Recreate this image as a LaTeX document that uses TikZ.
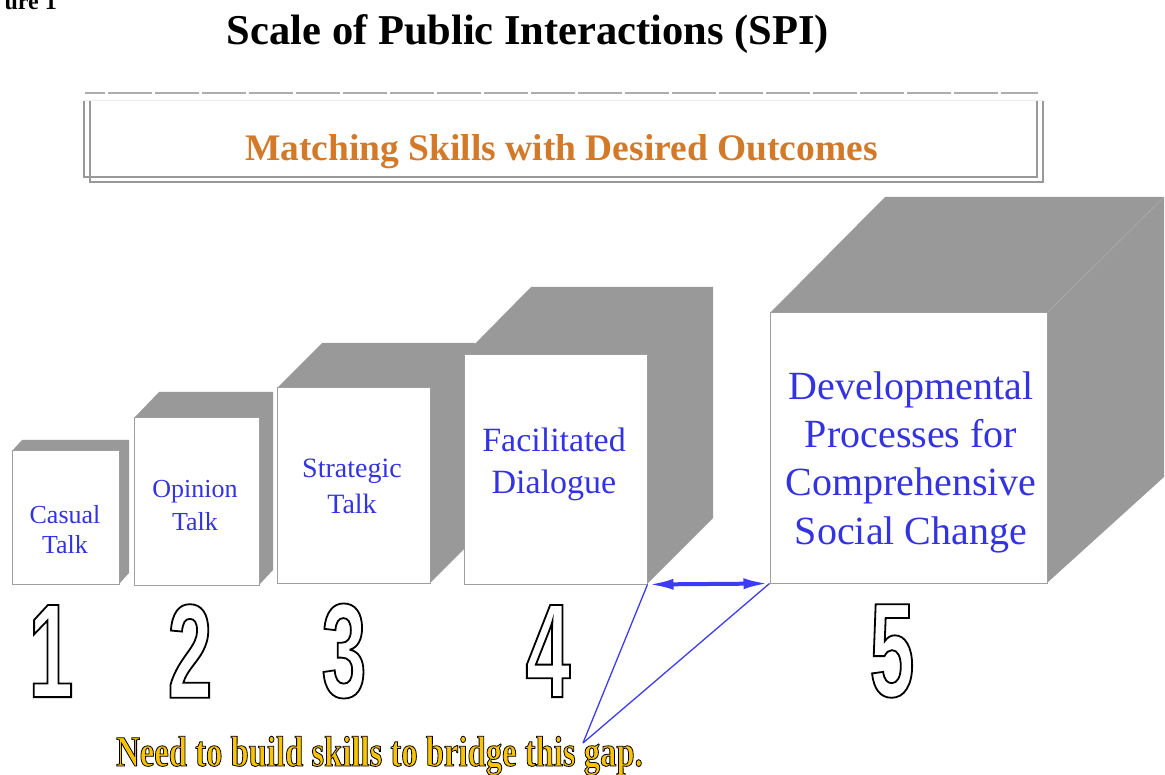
\documentclass[tikz,border=0pt]{standalone}
\usepackage{fontspec}
\setmainfont{Liberation Serif}
\newfontfamily\numfont[FakeStretch=0.6]{Liberation Sans}
\newfontfamily\gapfont[FakeStretch=0.76]{Liberation Serif}
\usetikzlibrary{arrows.meta}
\definecolor{boxgray}{RGB}{153,153,153}
\definecolor{labelblue}{RGB}{51,51,225}
\definecolor{bannerorange}{RGB}{210,122,42}
\definecolor{arrowblue}{RGB}{60,60,245}
\definecolor{gapgold}{RGB}{250,196,0}
\newcommand{\hollow}[1]{\special{pdf:literal direct 1 Tr 1.8 w 0 G}#1\special{pdf:literal direct 0 Tr}}
\newcommand{\goldtext}[1]{{\color{gapgold}\special{pdf:literal direct 2 Tr 0.8 w 0 G}#1\special{pdf:literal direct 0 Tr}}}
\begin{document}
\begin{tikzpicture}[x=1pt,y=-1pt,
  face/.style={draw=gray!75,line width=1pt,fill=white,inner sep=0pt},
  side/.style={fill=boxgray},
  facetext/.style={text=labelblue,align=center,inner sep=0pt},
  numeral/.style={inner sep=0pt,font=\numfont\bfseries\fontsize{134}{134}\selectfont},
  frameline/.style={draw=boxgray,line width=1.3pt},
  gaparrow/.style={draw=arrowblue,line width=4pt,{Latex[length=26pt,width=11pt]}-{Latex[length=26pt,width=11pt]}},
  gapline/.style={draw=arrowblue,line width=1.3pt}]
\clip (0,0) rectangle (1165,775);

% headings
\node[font=\bfseries\fontsize{24}{28}\selectfont,anchor=base east,inner sep=0pt] (figlabel) at (57,10) {ure 1};
\node[font=\bfseries\fontsize{42.5}{50}\selectfont,anchor=base] (title) at (528,45) {Scale of Public Interactions (SPI)};

% banner
\draw[boxgray!80!white,line width=1.5pt,dash pattern=on 44pt off 3pt,dash phase=24pt] (85,93) -- (1038,93);
\draw[gray!15,line width=1pt] (84,101) -- (1043,101);
\draw[frameline] (84,101) -- (84,177) -- (1037,177) -- (1037,101);
\draw[frameline] (90,101) -- (90,182) -- (1043,182) -- (1043,101);
\node[text=bannerorange,font=\bfseries\fontsize{37.5}{45}\selectfont,anchor=base] (banner) at (561.5,161) {Matching Skills with Desired Outcomes};

% blocks
\fill[side] (12,451) -- (22,440) -- (129,440) -- (129,573) -- (119,584) -- (119,451) -- cycle;
\node[face,minimum width=107pt,minimum height=133pt] (casual) at (65.5,517.5) {};
\fill[side] (134,418) -- (159,392) -- (273,392) -- (273,570) -- (259,585) -- (259,418) -- cycle;
\node[face,minimum width=125pt,minimum height=167pt] (opinion) at (196.5,501.5) {};
\fill[side] (277,388) -- (322,343) -- (475,343) -- (475,538) -- (430,583) -- (430,388) -- cycle;
\node[face,minimum width=153pt,minimum height=195pt] (strategic) at (353.5,485.5) {};
\fill[side] (464,355) -- (531,287) -- (713,287) -- (713,518) -- (647,584) -- (647,355) -- cycle;
\node[face,minimum width=183pt,minimum height=229pt] (facilitated) at (555.5,469.5) {};
\fill[side] (770,313) -- (885,197) -- (1164,197) -- (1164,477) -- (1047,583) -- (1047,313) -- cycle;
\draw[boxgray!80!white,line width=0.6pt] (1047,313) -- (1164,197);
\node[face,minimum width=277pt,minimum height=270pt] (developmental) at (908.5,448) {};

\node[facetext,font=\fontsize{26}{30}\selectfont] (casualtext) at (65,530) {Casual\\Talk};
\node[facetext,font=\fontsize{26}{33}\selectfont] (opiniontext) at (195,506) {Opinion\\Talk};
\node[facetext,font=\fontsize{28}{36}\selectfont] (strategictext) at (352,486) {Strategic\\Talk};
\node[facetext,font=\fontsize{34}{42}\selectfont] (facilitatedtext) at (554,464) {Facilitated\\Dialogue};
\node[facetext,font=\fontsize{40}{48.3}\selectfont] (developmentaltext) at (911,462) {Developmental\\Processes for\\Comprehensive\\Social Change};

% numbers
\node[numeral] (num1) at (51,651) {\hollow{1}};
\node[numeral] (num2) at (190,651) {\hollow{2}};
\node[numeral] (num3) at (344,651) {\hollow{3}};
\node[numeral] (num4) at (548,651) {\hollow{4}};
\node[numeral] (num5) at (892,651) {\hollow{5}};

% gap
\draw[gaparrow] (facilitated.south east) -- (developmental.south west);
\coordinate (gaptip) at (583,743);
\draw[gapline] (gaptip) -- (facilitated.south east);
\draw[gapline] (gaptip) -- (developmental.south west);
\node[anchor=base west,inner sep=0pt,font=\gapfont\bfseries\fontsize{43}{50}\selectfont] (gapnote) at (116,766) {\goldtext{Need to build skills to bridge this gap.}};
\end{tikzpicture}
\end{document}
